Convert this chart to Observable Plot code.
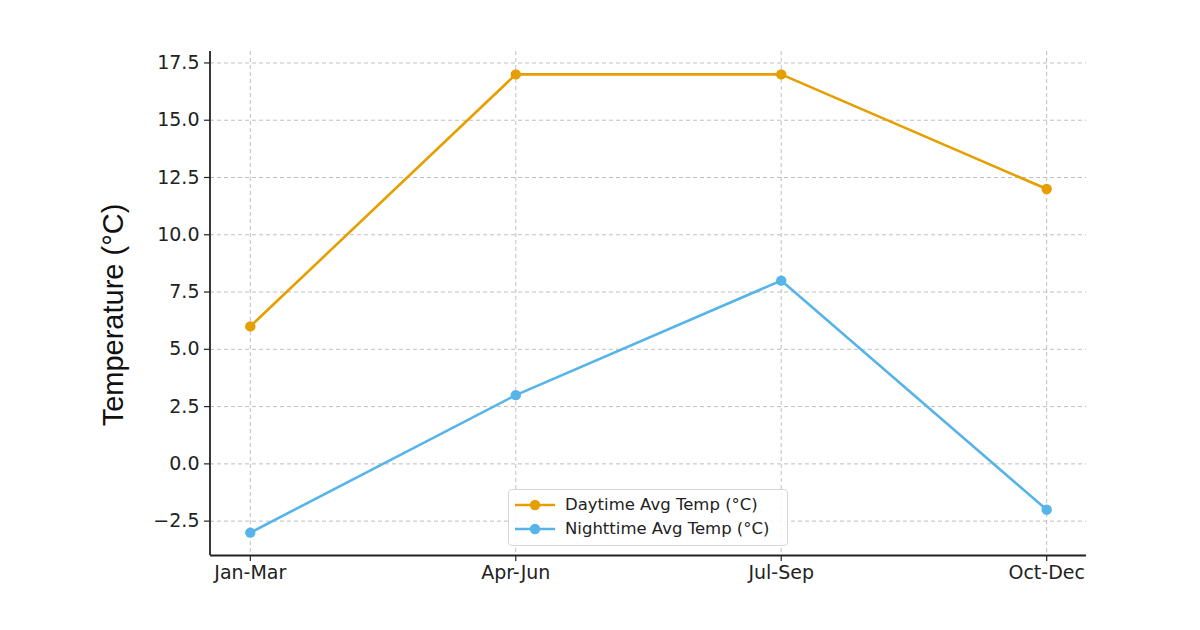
<!DOCTYPE html>
<html>
<head>
<meta charset="utf-8">
<script src="https://cdn.jsdelivr.net/npm/d3@7"></script>
<script src="https://cdn.jsdelivr.net/npm/@observablehq/plot@0.6"></script>
<style>
  html, body { margin: 0; padding: 0; background: #fff; }
  #wrap { position: relative; width: 1200px; height: 630px; overflow: hidden; }
  #legend {
    position: absolute; left: 508px; top: 489px; width: 280px; height: 57px;
    box-sizing: border-box; border: 1px solid #d6d6d6; border-radius: 4px;
    background: rgba(255,255,255,0.85);
    font-family: "DejaVu Sans", sans-serif; font-size: 16.5px; color: #222;
    padding-top: 3px;
  }
  .item { position: relative; height: 24px; line-height: 24px; }
  .item svg { position: absolute; left: 4px; top: 0; }
  .item span { position: absolute; left: 56px; top: 0; white-space: nowrap; }
</style>
</head>
<body>
<div id="wrap"></div>
<script>
const quarters = ["Jan-Mar", "Apr-Jun", "Jul-Sep", "Oct-Dec"];
const daytime = [6, 17, 17, 12];
const nighttime = [-3, 3, 8, -2];
const seriesNames = ["Daytime Avg Temp (°C)", "Nighttime Avg Temp (°C)"];
const seriesColors = ["#E69F00", "#56B4E9"];
const yTicks = [-2.5, 0, 2.5, 5, 7.5, 10, 12.5, 15, 17.5];

const rows = [];
quarters.forEach((q, i) => {
  rows.push({quarter: q, temp: daytime[i], series: seriesNames[0]});
  rows.push({quarter: q, temp: nighttime[i], series: seriesNames[1]});
});

const chart = Plot.plot({
  width: 1200,
  height: 630,
  marginLeft: 210,
  marginRight: 114,
  marginTop: 51,
  marginBottom: 75,
  style: {fontFamily: "DejaVu Sans, sans-serif", fontSize: "19px", color: "#222", background: "transparent"},
  x: {type: "point", domain: quarters, padding: 0.15, round: false, label: null},
  y: {domain: [-4, 18], label: null},
  color: {domain: seriesNames, range: seriesColors},
  marks: [
    Plot.gridX(quarters, {stroke: "#b8b8b8", strokeOpacity: 1, strokeDasharray: "4,3", strokeWidth: 0.9}),
    Plot.gridY(yTicks, {stroke: "#b8b8b8", strokeOpacity: 1, strokeDasharray: "4,3", strokeWidth: 0.9}),
    Plot.axisX(quarters, {tickSize: 6, tickPadding: 4, fontSize: 19, stroke: "#222", strokeWidth: 1.2}),
    Plot.axisY(yTicks, {tickSize: 6, tickPadding: 5, fontSize: 19, tickFormat: d3.format(".1f"), stroke: "#222", strokeWidth: 1.2, label: null}),
    Plot.ruleY([-4], {stroke: "#222", strokeWidth: 1.8}),
    Plot.line(rows, {x: "quarter", y: "temp", z: "series", stroke: "series", strokeWidth: 2.6}),
    Plot.dot(rows, {x: "quarter", y: "temp", fill: "series", r: 5.2, stroke: null})
  ]
});

const wrap = document.getElementById("wrap");
wrap.appendChild(chart);

// left spine and y label
const svg = d3.select(chart);
svg.append("line")
  .attr("x1", 210).attr("x2", 210).attr("y1", 51).attr("y2", 555)
  .attr("stroke", "#222").attr("stroke-width", 1.8);
svg.append("text")
  .attr("transform", "translate(123,315) rotate(-90)")
  .attr("text-anchor", "middle")
  .attr("font-family", "Liberation Sans, Arial, sans-serif")
  .attr("font-size", 29)
  .attr("fill", "#111")
  .text("Temperature (°C)");

// legend
const legend = document.createElement("div");
legend.id = "legend";
seriesNames.forEach((name, i) => {
  const item = document.createElement("div");
  item.className = "item";
  item.innerHTML = `<svg width="44" height="24"><line x1="2" x2="42" y1="12" y2="12" stroke="${seriesColors[i]}" stroke-width="2.6"/><circle cx="22" cy="12" r="5.2" fill="${seriesColors[i]}"/></svg><span>${name}</span>`;
  legend.appendChild(item);
});
wrap.appendChild(legend);
</script>
</body>
</html>
